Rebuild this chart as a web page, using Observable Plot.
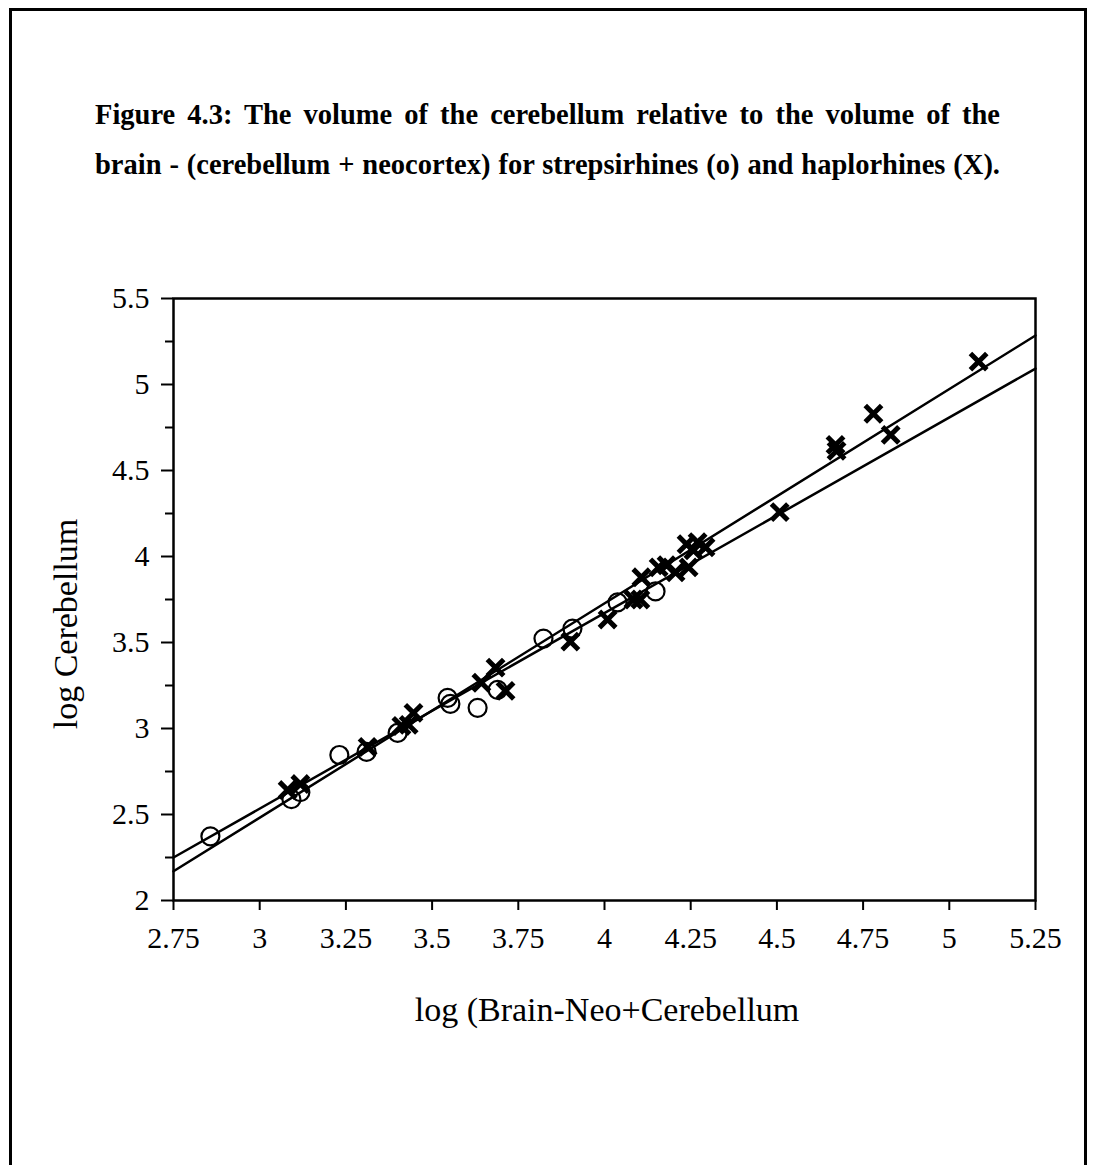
<!DOCTYPE html>
<html>
<head>
<meta charset="utf-8">
<script src="https://cdn.jsdelivr.net/npm/d3@7"></script>
<script src="https://cdn.jsdelivr.net/npm/@observablehq/plot@0.6"></script>
<style>
  html, body { margin: 0; padding: 0; background: #fff; }
  body { width: 1096px; height: 1165px; position: relative; overflow: hidden; font-family: "Liberation Serif", "DejaVu Serif", serif; color: #000; }
  #border { position: absolute; left: 9px; top: 8px; width: 1078px; height: 1170px; border: 3px solid #000; box-sizing: border-box; }
  .title { position: absolute; left: 95px; width: 905px; font-weight: bold; font-size: 28.5px; line-height: 50px; text-align: justify; text-align-last: justify; white-space: nowrap; }
  #chart { position: absolute; left: 0; top: 260px; }
  .axlabel { position: absolute; font-size: 34px; white-space: nowrap; }
</style>
</head>
<body>
<div id="border"></div>
<div class="title" style="top:90px">Figure 4.3: The volume of the cerebellum relative to the volume of the</div>
<div class="title" style="top:140px">brain - (cerebellum + neocortex) for strepsirhines (o) and haplorhines (X).</div>
<div id="chart"></div>
<div class="axlabel" id="xlab" style="left:607px; top:1010px; transform: translate(-50%, -50%);">log (Brain-Neo+Cerebellum</div>
<div class="axlabel" id="ylab" style="left:66px; top:624px; transform: translate(-50%, -50%) rotate(-90deg);">log Cerebellum</div>
<script>
// Strepsirhines (circles)
const strepX = [2.857, 3.092, 3.118, 3.231, 3.310, 3.400, 3.545, 3.553, 3.632, 3.690, 3.823, 3.907, 4.038, 4.148];
const strepY = [2.373, 2.589, 2.630, 2.846, 2.864, 2.974, 3.178, 3.143, 3.120, 3.225, 3.523, 3.581, 3.733, 3.797];
// Haplorhines (crosses)
const haploX = [3.081, 3.118, 3.313, 3.411, 3.432, 3.446, 3.643, 3.684, 3.713, 3.901, 4.009,
                4.084, 4.104, 4.107, 4.157, 4.180, 4.206, 4.244, 4.238, 4.258, 4.270, 4.293,
                4.508, 4.670, 4.673, 4.780, 4.830, 5.085];
const haploY = [2.642, 2.677, 2.893, 3.015, 3.021, 3.091, 3.266, 3.354, 3.219, 3.505, 3.634,
                3.750, 3.750, 3.879, 3.937, 3.949, 3.908, 3.937, 4.071, 4.036, 4.083, 4.054,
                4.258, 4.649, 4.614, 4.830, 4.707, 5.133];
// Fitted lines (intercept at x = 2.75, slope)
const lineIntercepts = [2.250, 2.170];
const lineSlopes = [1.137, 1.246];
const xDomain = [2.75, 5.25];
const yDomain = [2, 5.5];
const xTicks = [2.75, 3, 3.25, 3.5, 3.75, 4, 4.25, 4.5, 4.75, 5, 5.25];
const yTicks = [2, 2.5, 3, 3.5, 4, 4.5, 5, 5.5];
const yMinorTicks = [2.25, 2.75, 3.25, 3.75, 4.25, 4.75, 5.25];

const circles = strepX.map((x, i) => ({x, y: strepY[i]}));
const crosses = haploX.map((x, i) => ({x, y: haploY[i]}));
const lines = [];
lineIntercepts.forEach((b, k) => {
  xDomain.forEach(x => lines.push({k, x, y: b + lineSlopes[k] * (x - xDomain[0])}));
});

const chart = Plot.plot({
  width: 1096,
  height: 800,
  marginLeft: 173,
  marginRight: 61,
  marginTop: 38,
  marginBottom: 160,
  style: {fontFamily: "'Liberation Serif', serif", fontSize: "30px", color: "#000", background: "transparent", overflow: "visible"},
  x: {domain: xDomain},
  y: {domain: yDomain},
  marks: [
    Plot.line(lines, {x: "x", y: "y", z: "k", stroke: "black", strokeWidth: 2.5}),
    Plot.dot(circles, {x: "x", y: "y", r: 9, stroke: "black", strokeWidth: 2.2, fill: "none"}),
    Plot.dot(crosses, {x: "x", y: "y", symbol: "times", r: 7.5, stroke: "black", strokeWidth: 5}),
    Plot.axisX({ticks: xTicks, tickFormat: d => `${d}`, tickSize: 10, tickPadding: 16, label: null, strokeWidth: 2}),
    Plot.axisY({ticks: yTicks, tickFormat: d => `${d}`, tickSize: 12, tickPadding: 12, label: null, strokeWidth: 2}),
    Plot.axisY({ticks: yMinorTicks, tickFormat: () => "", tickSize: 8, label: null, strokeWidth: 2}),
    Plot.frame({stroke: "black", strokeWidth: 2.5})
  ]
});
document.getElementById("chart").appendChild(chart);
</script>
</body>
</html>
